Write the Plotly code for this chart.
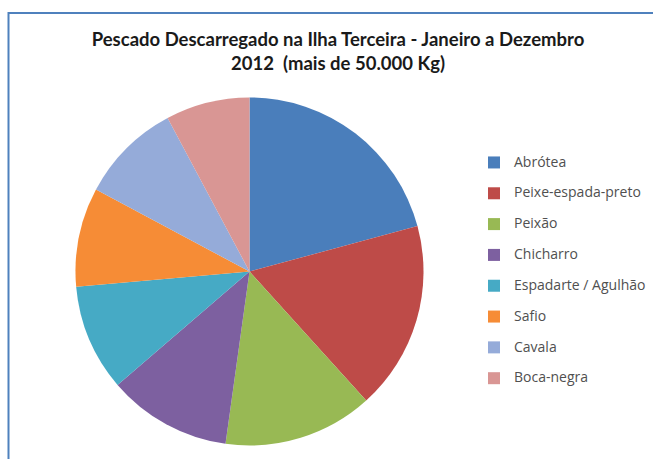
import plotly.graph_objects as go

W, H = 653, 459

categories = ["Abrótea", "Peixe-espada-preto", "Peixão", "Chicharro",
              "Espadarte / Agulhão", "Safio", "Cavala", "Boca-negra"]
# approximate landed weight (t)
values = [208, 175, 139, 115, 99, 92, 94, 78]
colors = ["#4A7EBB", "#BE4B48", "#98B954", "#7D60A0",
          "#46AAC5", "#F68C36", "#95ABD9", "#D99694"]

title_text = "Pescado Descarregado na Ilha Terceira - Janeiro a Dezembro<br>2012  (mais de 50.000 Kg)"

# two-line legend entries (second line blank) give the taller row spacing of the original
legend_labels = ["<span style='font-size:14px'>" + c + "</span><br>\u00a0" for c in categories]

fig = go.Figure(go.Pie(
    labels=legend_labels,
    values=values,
    customdata=categories,
    hovertemplate="%{customdata}: %{value} (%{percent})<extra></extra>",
    marker=dict(colors=colors, line=dict(width=0)),
    textinfo="none",
    sort=False,
    direction="clockwise",
    rotation=0,
    domain=dict(x=[75.5 / W, 423.5 / W], y=[1 - 445.5 / H, 1 - 97.5 / H]),
))

fig.update_layout(
    width=W, height=H,
    margin=dict(l=0, r=0, t=0, b=0, autoexpand=False),
    paper_bgcolor="white",
    plot_bgcolor="white",
    title=dict(text=title_text, x=338 / W, xanchor="center", y=1 - 46 / H, yanchor="top",
               font=dict(family="Lato", size=18.5, color="#1a1a1a", weight="bold")),
    legend=dict(x=474 / W, xanchor="left", y=1 - 149 / H, yanchor="top",
                valign="top", font=dict(family="Open Sans", size=10.7, color="#505050"),
                bgcolor="rgba(0,0,0,0)"),
    shapes=[dict(type="rect", xref="paper", yref="paper",
                 x0=8.5 / W, x1=1.05, y0=-0.05, y1=1 - 13 / H,
                 line=dict(color="#4F81BD", width=2), layer="above")],
)

fig.write_html("out.html")
